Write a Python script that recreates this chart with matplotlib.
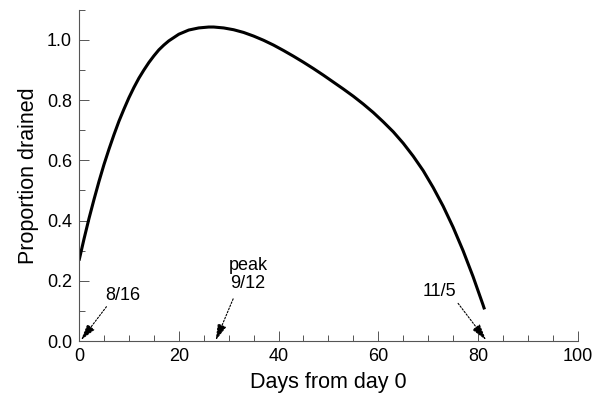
import matplotlib
matplotlib.use("Agg")
import matplotlib.pyplot as plt
from matplotlib.ticker import MultipleLocator, FormatStrFormatter

plt.rcParams['font.family'] = ['Liberation Sans', 'DejaVu Sans']

days = [0, 1, 2, 3, 4, 5, 6, 7, 8, 9, 10, 11, 12, 13, 14, 15, 16, 17, 18, 20, 22,
        24, 26, 27, 29, 31, 33, 35, 37, 39, 41, 43, 45, 47, 49, 51, 53, 55, 57,
        59, 61, 63, 65, 67, 69, 71, 73, 75, 77, 79, 81, 81.3]
proportion = [0.267, 0.339, 0.407, 0.470, 0.530, 0.586, 0.637, 0.685, 0.730,
              0.770, 0.808, 0.842, 0.873, 0.900, 0.925, 0.947, 0.967, 0.983,
              0.997, 1.019, 1.033, 1.040, 1.043, 1.043, 1.040, 1.034, 1.025,
              1.013, 0.999, 0.983, 0.965, 0.946, 0.926, 0.905, 0.883, 0.860,
              0.837, 0.813, 0.787, 0.759, 0.728, 0.695, 0.657, 0.614, 0.566,
              0.510, 0.448, 0.378, 0.300, 0.214, 0.120, 0.105]

ann_labels = ["8/16", "peak\n9/12", "11/5"]
ann_text_xy = [(8.8, 0.150), (33.9, 0.220), (72.3, 0.164)]
ann_tail_xy = [(5.5, 0.114), (30.9, 0.140), (76.0, 0.125)]
ann_tip_xy = [(0.4, 0.003), (27.4, 0.002), (81.6, 0.003)]

fig = plt.figure(figsize=(6.0, 3.98), dpi=100)
ax = fig.add_axes([0.1317, 0.1432, 0.8313, 0.832])

ax.plot(days, proportion, color='black', lw=2.2, solid_capstyle='butt',
        solid_joinstyle='round')

for lab, txy, tail, tip in zip(ann_labels, ann_text_xy, ann_tail_xy, ann_tip_xy):
    ax.text(txy[0], txy[1], lab, ha='center', va='center', fontsize=13,
            linespacing=1.1)
    ax.annotate('', xy=tip, xytext=tail,
                arrowprops=dict(arrowstyle='-|>,head_length=1.0,head_width=0.28',
                                color='black', lw=0.8, linestyle=(0, (1.5, 1.5)),
                                shrinkA=0, shrinkB=0))

ax.set_xlim(0, 100)
ax.set_ylim(0, 1.1)
ax.xaxis.set_major_locator(MultipleLocator(20))
ax.xaxis.set_minor_locator(MultipleLocator(5))
ax.yaxis.set_major_locator(MultipleLocator(0.2))
ax.yaxis.set_minor_locator(MultipleLocator(0.1))
ax.yaxis.set_major_formatter(FormatStrFormatter('%.1f'))

for s in ['top', 'right']:
    ax.spines[s].set_visible(False)
for s in ['left', 'bottom']:
    ax.spines[s].set_linestyle((0, (5, 1, 1, 1)))
    ax.spines[s].set_color('#555555')
    ax.spines[s].set_linewidth(0.8)

ax.tick_params(which='major', direction='in', length=7, width=0.7, color='#555555',
               labelsize=13, pad=5)
ax.tick_params(which='minor', direction='in', length=4, width=0.7, color='#555555')

ax.set_xlabel('Days from day 0', fontsize=15.5, labelpad=5)
ax.set_ylabel('Proportion drained', fontsize=15.5, labelpad=6)

fig.savefig('out.png', dpi=100)
